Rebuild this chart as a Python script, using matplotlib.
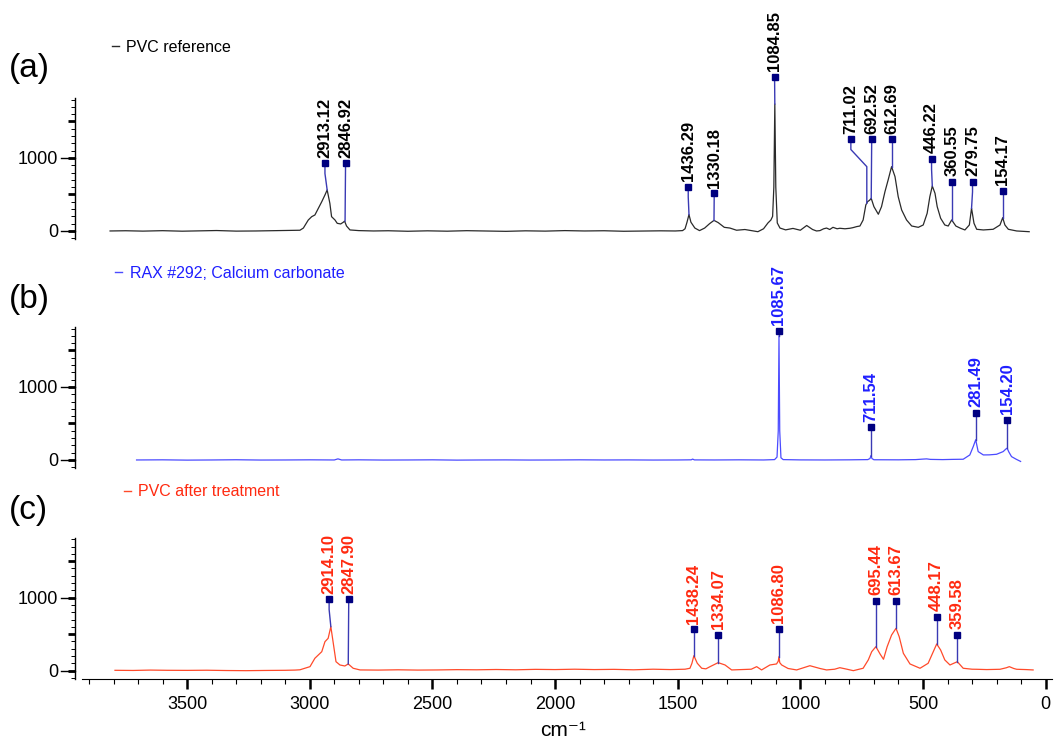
import numpy as np
import matplotlib
matplotlib.use('Agg')
import matplotlib.pyplot as plt
from matplotlib.lines import Line2D

plt.rcParams['font.family'] = ['Liberation Sans', 'DejaVu Sans']

# ---- (a) PVC reference ----
a_wn = [3814, 3750, 3680, 3600, 3520, 3450, 3380, 3300, 3220, 3150, 3090, 3040, 3026, 3006, 2992,
        2979, 2965, 2951, 2938, 2929, 2918, 2911, 2897, 2888, 2874, 2863, 2858, 2850, 2836, 2800,
        2740, 2680, 2600, 2520, 2440, 2360, 2280, 2200, 2120, 2040, 1960, 1880, 1800, 1720, 1640,
        1570, 1510, 1480, 1470, 1462, 1454, 1446, 1430, 1411, 1390, 1370, 1352, 1335, 1310, 1287,
        1260, 1226, 1200, 1173, 1150, 1132, 1120, 1113, 1108, 1104, 1100, 1094, 1083, 1060, 1030,
        1000, 974, 950, 934, 920, 905, 893, 880, 867, 850, 839, 818, 798, 786, 770, 757, 744, 733,
        726, 718, 711, 700, 682, 669, 655, 642, 628, 614, 601, 587, 567, 546, 519, 499, 483, 472,
        462, 451, 442, 428, 411, 397, 383, 366, 347, 329, 311, 302, 292, 281, 254, 214, 186, 175,
        166, 152, 118, 67]
a_int = [0, 3, -2, 4, -3, 2, 6, -2, 0, 4, 8, 10, 40, 150, 196,
         219, 311, 401, 493, 562, 379, 196, 150, 105, 96, 120, 135, 68, 14, 5,
         0, 3, -4, 2, -3, 4, 0, -5, 2, -2, 5, 0, 3, -4, 0,
         2, 0, 5, 30, 120, 225, 120, 40, 5, 40, 100, 145, 115, 50, 40,
         10, 20, 5, -10, 30, 110, 150, 200, 600, 1740, 600, 110, 40, 15, 35,
         10, 75, 20, 0, 5, 30, 40, 20, 50, 30, 37, 30, 37, 45, 60, 68, 150, 356,
         401, 420, 447, 333, 229, 333, 538, 699, 881, 744, 470, 288, 151, 68, 50, 82, 242, 470,
         616, 516, 333, 174, 82, 68, 151, 68, 37, 14, 82, 311, 105, 23, 14, 23, 82, 182,
         82, 23, 0, -10]
a_labels = ['2913.12', '2846.92', '1436.29', '1330.18', '1084.85', '711.02', '692.52',
            '612.69', '446.22', '360.55', '279.75', '154.17']
a_mark_x = [2938, 2854, 1457, 1351, 1105, 794, 709, 628, 465, 383, 298, 175]
a_mark_y = [927, 927, 607, 516, 2114, 1256, 1256, 1256, 986, 675, 675, 548]
a_top_x = [2929, 2856, 1454, 1352, 1104, 729, 711, 628, 462, 383, 302, 175]
a_top_y = [562, 135, 225, 145, 1740, 380, 447, 881, 616, 151, 311, 182]

# ---- (b) RAX #292; Calcium carbonate ----
b_wn = [3706, 3600, 3500, 3400, 3300, 3200, 3100, 3000, 2900, 2885, 2870, 2800, 2700, 2600, 2500,
        2400, 2300, 2200, 2100, 2000, 1900, 1800, 1700, 1600, 1500, 1445, 1439, 1432, 1350, 1250,
        1150, 1105, 1095, 1090, 1087, 1084, 1079, 1070, 1000, 900, 800, 725, 716, 712, 708, 700,
        600, 530, 500, 485, 470, 420, 380, 336, 309, 295, 285, 275, 254, 230, 200, 173, 162, 157,
        150, 139, 120, 102]
b_int = [0, 2, -2, 0, 3, -1, 0, 2, 0, 15, 0, 2, -1, 0, 2,
         -2, 0, 1, -1, 0, 2, 0, 1, -1, 0, 2, 12, 1, 0, 2,
         0, 5, 40, 400, 1700, 400, 30, 5, 1, 0, 2, 5, 20, 60, 20, 3,
         2, 5, 12, 15, 8, 5, 8, 10, 69, 184, 277, 115, 69, 70, 78, 115, 150, 162,
         110, 46, 10, -20]
b_labels = ['1085.67', '711.54', '281.49', '154.20']
b_mark_x = [1087, 712, 285, 157]
b_mark_y = [1770, 448, 650, 550]
b_top_x = [1087, 712, 285, 157]
b_top_y = [1700, 60, 277, 162]

# ---- (c) PVC after treatment ----
c_wn = [3794, 3720, 3650, 3580, 3500, 3420, 3340, 3260, 3180, 3100, 3060, 3040, 2999, 2979, 2965,
        2951, 2938, 2925, 2914, 2904, 2893, 2877, 2857, 2843, 2823, 2795, 2720, 2640, 2560, 2480,
        2400, 2320, 2240, 2160, 2080, 2000, 1920, 1840, 1760, 1680, 1600, 1530, 1470, 1450, 1442,
        1434, 1420, 1402, 1385, 1368, 1335, 1307, 1280, 1240, 1200, 1178, 1158, 1124, 1097, 1090,
        1087, 1084, 1076, 1050, 1015, 961, 920, 893, 860, 839, 810, 784, 760, 744, 723, 709, 692,
        675, 661, 646, 628, 610, 597, 580, 553, 512, 479, 458, 444, 428, 411, 390, 360, 336, 300,
        281, 240, 186, 160, 148, 130, 118, 80, 51]
c_int = [5, 3, 8, 5, 4, 6, 2, 0, 3, 5, 8, 12, 55, 170, 215,
         260, 397, 443, 603, 375, 123, 78, 64, 92, 33, 10, 8, 12, 8, 10,
         14, 12, 16, 12, 18, 15, 20, 15, 18, 12, 20, 15, 20, 33, 100,
         205, 101, 33, 25, 55, 110, 78, 10, 15, 20, 55, 10, 78, 92, 130,
         192, 110, 78, 30, 10, 68, 30, 10, 20, 41, 20, 0, 20, 33, 147, 260, 329,
         229, 156, 329, 488, 580, 466, 238, 92, 33, 101, 260, 366, 283, 147, 78, 123, 33, 20,
         19, 15, 19, 40, 55, 30, 19, 15, 10]
c_labels = ['2914.10', '2847.90', '1438.24', '1334.07', '1086.80', '695.44', '613.67',
            '448.17', '359.58']
c_mark_x = [2921, 2841, 1434, 1335, 1087, 692, 610, 444, 360]
c_mark_y = [978, 978, 567, 490, 571, 959, 959, 740, 490]
c_top_x = [2914, 2843, 1434, 1335, 1087, 692, 610, 444, 360]
c_top_y = [603, 92, 205, 110, 192, 329, 580, 366, 123]

W, H = 1054, 742
fig = plt.figure(figsize=(W / 100, H / 100), dpi=100)

panels = [
    dict(wn=a_wn, y=a_int, labels=a_labels, mx=a_mark_x, my=a_mark_y, tx=a_top_x, ty=a_top_y,
         line='#2a2a2a', text='#000000', bottom=239, tag='(a)', tag_y=68,
         name='PVC reference', leg=(112, 126, 47)),
    dict(wn=b_wn, y=b_int, labels=b_labels, mx=b_mark_x, my=b_mark_y, tx=b_top_x, ty=b_top_y,
         line='#4b4bff', text='#1f1fff', bottom=468, tag='(b)', tag_y=300,
         name='RAX #292; Calcium carbonate', leg=(115, 130, 273)),
    dict(wn=c_wn, y=c_int, labels=c_labels, mx=c_mark_x, my=c_mark_y, tx=c_top_x, ty=c_top_y,
         line='#ff4a2a', text='#ff2a10', bottom=678.7, tag='(c)', tag_y=511,
         name='PVC after treatment', leg=(124, 138, 492)),
]

xmin, xmax = 3957, -26
ymin, ymax = -110, 1820
ax_h = (ymax - ymin) * 0.073

for i, p in enumerate(panels):
    ax = fig.add_axes([75 / W, 1 - p['bottom'] / H, 977 / W, ax_h / H])
    ax.set_xlim(xmin, xmax)
    ax.set_ylim(ymin, ymax)
    ax.patch.set_alpha(0)

    ax.plot(p['wn'], p['y'], color=p['line'], lw=0.9, zorder=2)

    for lab, xm, ym, xp, yp in zip(p['labels'], p['mx'], p['my'], p['tx'], p['ty']):
        if abs(xm - xp) < 3:
            lx, ly = [xm, xp], [ym, yp]
        else:
            lx = [xm, xm, xp, xp]
            ly = [ym, ym - 140, max(ym - 375, yp), yp]
        ax.plot(lx, ly, color='#3a3ab4', lw=1, zorder=3, clip_on=False)
        ax.plot([xm], [ym], marker='s', ms=4.6, color='#000080', zorder=4, clip_on=False)
        ax.annotate(lab, (xm, ym), xytext=(0, 4), textcoords='offset points', rotation=90,
                    ha='center', va='bottom', fontsize=12, fontweight='bold',
                    color=p['text'], annotation_clip=False)

    # y ruler
    for s in ['top', 'right']:
        ax.spines[s].set_visible(False)
    ax.spines['left'].set_linewidth(1)
    ax.set_yticks([0, 500, 1000, 1500])
    ax.set_yticklabels(['0', '', '1000', ''])
    ax.set_yticks(np.arange(-100, 1801, 100), minor=True)
    ax.tick_params(axis='y', which='major', length=5, width=2, pad=7, labelsize=13)
    ax.tick_params(axis='y', which='minor', length=2.8, width=0.7)
    for v in [0, 1000]:
        ax.plot([-14 / 977, 0], [v, v], transform=ax.get_yaxis_transform(),
                color='k', lw=1, clip_on=False)

    if i < 2:
        ax.spines['bottom'].set_visible(False)
        ax.set_xticks([])
    else:
        ax.spines['bottom'].set_bounds(3930, xmax)
        ax.set_xticks(np.arange(0, 3501, 500))
        ax.set_xticks(np.arange(0, 3901, 100), minor=True)
        ax.tick_params(axis='x', which='major', length=7.5, width=1.8, pad=5, labelsize=13)
        ax.tick_params(axis='x', which='minor', length=3.6, width=0.8)

    # panel tag and legend
    fig.text(9 / W, 1 - p['tag_y'] / H, p['tag'], fontsize=24, va='center', ha='left')
    x_dash, x_txt, y_leg = p['leg']
    fig.add_artist(Line2D([x_dash / W, (x_dash + 7) / W], [1 - (y_leg - 1) / H] * 2,
                          color=p['line'], lw=1))
    fig.text(x_txt / W, 1 - y_leg / H, p['name'], fontsize=11.5, color=p['text'],
             va='center', ha='left')

fig.text(563 / W, 1 - 730 / H, 'cm⁻¹', fontsize=15, ha='center', va='center')

fig.savefig('out.png', dpi=100)
